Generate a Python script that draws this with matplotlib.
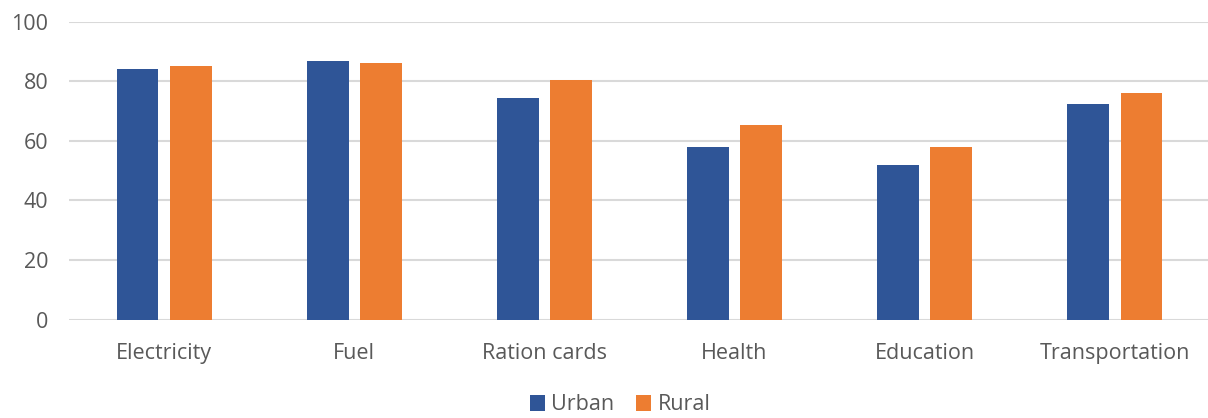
import numpy as np
import matplotlib
matplotlib.use("Agg")
import matplotlib.pyplot as plt

plt.rcParams["font.family"] = ["Open Sans", "DejaVu Sans"]

categories = ["Electricity", "Fuel", "Ration cards", "Health", "Education", "Transportation"]
urban = [84.2, 86.9, 74.2, 58.0, 51.7, 72.4]
rural = [85.1, 86.0, 80.5, 65.2, 58.0, 76.0]
yticks = [0, 20, 40, 60, 80, 100]

BLUE = "#2F5597"
ORANGE = "#ED7D31"
TEXT = "#595959"
GRID = "#D9D9D9"

W, H = 1208, 418
fig = plt.figure(figsize=(W / 100, H / 100), dpi=100)
ax = fig.add_axes([69 / W, (H - 319.5) / H, 1139 / W, 298 / H])

x = np.arange(len(categories))
bw = 0.22
ax.bar(x - 0.14, urban, bw, color=BLUE, label="Urban", zorder=3)
ax.bar(x + 0.14, rural, bw, color=ORANGE, label="Rural", zorder=3)

ax.set_xlim(-0.5, 5.49)
ax.set_ylim(0, 100)
ax.set_yticks(yticks)
ax.set_xticks(x)
ax.set_xticklabels(categories)
ax.yaxis.grid(True, color=GRID, linewidth=1.5, zorder=0)
ax.set_axisbelow(True)
for s in ax.spines.values():
    s.set_visible(False)
ax.tick_params(axis="both", length=0, labelsize=15.5, labelcolor=TEXT)
ax.tick_params(axis="x", pad=17)
ax.tick_params(axis="y", pad=15)

ax.legend(loc="center", bbox_to_anchor=(551 / 1139, (319.5 - 405) / 298),
          ncol=2, frameon=False, fontsize=15.5, labelcolor=TEXT,
          handlelength=0.7, handleheight=0.7, handletextpad=0.3, columnspacing=1.0)

fig.savefig("out.png", dpi=100)
